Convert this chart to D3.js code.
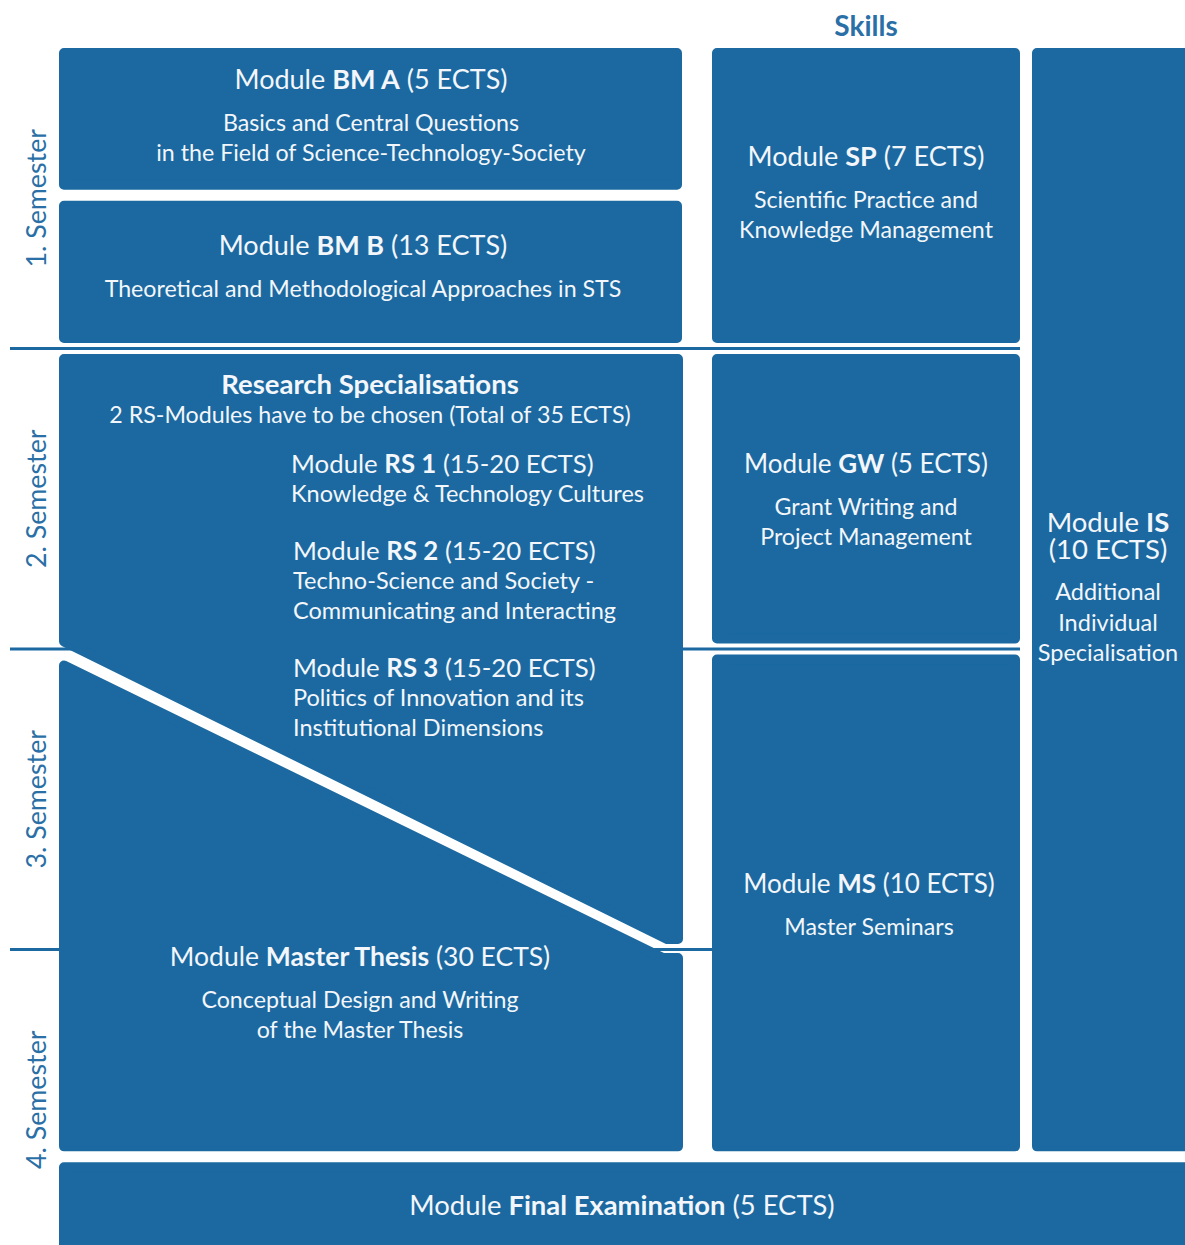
<!DOCTYPE html>
<html>
<head>
<meta charset="utf-8">
<title>STS Master - module structure</title>
<script src="https://cdn.jsdelivr.net/npm/d3@7"></script>
<style>
  body { margin: 0; background: #fff; }
  svg text { font-family: Lato, "Open Sans", sans-serif; }
</style>
</head>
<body>
<div id="chart"></div>
<script>
// ---- content ----
var semesters = ["1. Semester", "2. Semester", "3. Semester", "4. Semester"];
var skillsHeader = "Skills";

var moduleNames = ["BM A", "BM B", "SP", "GW", "MS", "Master Thesis", "IS", "Final Examination"];
var moduleEcts = ["5 ECTS", "13 ECTS", "7 ECTS", "5 ECTS", "10 ECTS", "30 ECTS", "10 ECTS", "5 ECTS"];
var moduleLines = [
  ["Basics and Central Questions", "in the Field of Science-Technology-Society"],
  ["Theoretical and Methodological Approaches in STS"],
  ["Scientific Practice and", "Knowledge Management"],
  ["Grant Writing and", "Project Management"],
  ["Master Seminars"],
  ["Conceptual Design and Writing", "of the Master Thesis"],
  ["Additional", "Individual", "Specialisation"],
  []
];

var rsHeader = "Research Specialisations";
var rsNote = "2 RS-Modules have to be chosen (Total of 35 ECTS)";
var rsNames = ["RS 1", "RS 2", "RS 3"];
var rsEcts = ["15-20 ECTS", "15-20 ECTS", "15-20 ECTS"];
var rsLines = [
  ["Knowledge & Technology Cultures"],
  ["Techno-Science and Society -", "Communicating and Interacting"],
  ["Politics of Innovation and its", "Institutional Dimensions"]
];

// ---- layout ----
var width = 1185, height = 1245;
var blue = "#1b69a0", textCol = "#f3f6fa";
var gap = 5.5, r = 5;

// semester axis: 0 = top of semester 1 ... 4 = bottom of semester 4
var y = d3.scaleLinear().domain([0, 4]).range([48, 1250]);
var columns = [[59, 682], [712, 1020], [1032, 1200], [59, 1200]];

// which column and which semester span each module occupies
var moduleCol = [0, 0, 1, 1, 1, null, 2, 3];
var moduleSpan = [[0, 0.49], [0.49, 1], [0, 1], [1, 2], [2, 3.69], null, [0, 3.69], [3.69, 4.2]];
// text anchor x, title baseline, title size
var modulePos = [[371, 89], [363, 255], [866, 166], [866, 473], [869, 893], [360, 966], [1108, 532], [622, 1215]];
var titleSize = [27, 27, 27, 26, 26, 26.5, 27.5, 27.4];
var subSize = 23.2;

var svg = d3.select("#chart").append("svg")
  .attr("width", width)
  .attr("height", height);

// inset a clockwise polygon by d (miter), so a round stroke gives rounded corners
function inset(pts, d) {
  var n = pts.length, lines = [];
  for (var i = 0; i < n; i++) {
    var p = pts[i], q = pts[(i + 1) % n];
    var dx = q[0] - p[0], dy = q[1] - p[1], len = Math.hypot(dx, dy);
    var nx = -dy / len, ny = dx / len;
    lines.push({ p: [p[0] + nx * d, p[1] + ny * d], v: [dx, dy] });
  }
  var out = [];
  for (var i = 0; i < n; i++) {
    var a = lines[(i - 1 + n) % n], b = lines[i];
    var den = a.v[0] * b.v[1] - a.v[1] * b.v[0];
    var t = ((b.p[0] - a.p[0]) * b.v[1] - (b.p[1] - a.p[1]) * b.v[0]) / den;
    out.push([a.p[0] + a.v[0] * t, a.p[1] + a.v[1] * t]);
  }
  return out;
}

var line = d3.line();
function drawBox(pts) {
  svg.append("path")
    .attr("d", line(inset(pts, r)) + "Z")
    .attr("fill", blue)
    .attr("stroke", blue)
    .attr("stroke-width", 2 * r)
    .attr("stroke-linejoin", "round");
}

function rectPts(x0, x1, y0, y1) {
  return [[x0, y0], [x1, y0], [x1, y1], [x0, y1]];
}

// ---- semester separators (drawn under the boxes) ----
var sepEnds = [1020, 1020, 712];
[1, 2, 3].forEach(function (s, i) {
  svg.append("line")
    .attr("x1", 10).attr("x2", sepEnds[i])
    .attr("y1", y(s)).attr("y2", y(s))
    .attr("stroke", blue)
    .attr("stroke-width", 3);
});

// ---- semester labels ----
svg.selectAll("text.sem")
  .data(semesters)
  .join("text")
  .attr("class", "sem")
  .attr("transform", function (d, i) {
    return "translate(46," + ((y(i) + y(i + 1)) / 2) + ") rotate(-90)";
  })
  .attr("text-anchor", "middle")
  .attr("fill", "#2a6fa6")
  .attr("font-size", 26.8)
  .text(function (d) { return d; });

svg.append("text")
  .attr("x", 866).attr("y", 36)
  .attr("text-anchor", "middle")
  .attr("fill", "#2a6fa6")
  .attr("font-size", 28)
  .attr("font-weight", 700)
  .text(skillsHeader);

// ---- regular module boxes ----
moduleSpan.forEach(function (sp, i) {
  if (!sp) return;
  var c = columns[moduleCol[i]];
  var y0 = sp[0] === 0 ? y(0) : y(sp[0]) + gap;
  var y1 = y(sp[1]) - gap;
  drawBox(rectPts(c[0], c[1], y0, y1));
});

// ---- research specialisation / master thesis, split by a diagonal ----
var c0 = columns[0];
var diagL = [c0[0], y(2)], diagR = [c0[1] - 16, y(3) - 1];
var half = 4.5;
drawBox([
  [c0[0], y(1) + gap], [c0[1] + 1, y(1) + gap], [c0[1] + 1, diagR[1] - half],
  [diagR[0], diagR[1] - half], [diagL[0], diagL[1] - half]
]);
drawBox([
  [diagL[0], diagL[1] + half + 4], [diagR[0] - 2, diagR[1] + half], [c0[1] + 1, diagR[1] + half],
  [c0[1] + 1, y(3.69) - gap], [c0[0], y(3.69) - gap]
]);

// ---- text ----
function titleText(x, yy, anchor, name, ects, size) {
  var t = svg.append("text")
    .attr("x", x).attr("y", yy)
    .attr("text-anchor", anchor)
    .attr("fill", textCol)
    .attr("font-size", size);
  t.append("tspan").text("Module ");
  t.append("tspan").attr("font-weight", 700).text(name);
  if (ects) t.append("tspan").text(" (" + ects + ")");
  return t;
}
function subLines(x, yy, anchor, lines, step, size) {
  lines.forEach(function (l, k) {
    svg.append("text")
      .attr("x", x).attr("y", yy + k * step)
      .attr("text-anchor", anchor)
      .attr("fill", textCol)
      .attr("font-size", size)
      .text(l);
  });
}

moduleNames.forEach(function (name, i) {
  var p = modulePos[i];
  if (name === "IS") {
    // two-line title kept in one text element
    var t = titleText(p[0], p[1], "middle", name, null, titleSize[i]);
    t.append("tspan").attr("x", p[0]).attr("dy", 27).text("(" + moduleEcts[i] + ")");
    subLines(p[0], p[1] + 68, "middle", moduleLines[i], 30.5, 23.5);
  } else {
    titleText(p[0], p[1], "middle", name, moduleEcts[i], titleSize[i]);
    subLines(p[0], p[1] + 42, "middle", moduleLines[i], 30, subSize);
  }
});

svg.append("text")
  .attr("x", 370).attr("y", 394)
  .attr("text-anchor", "middle")
  .attr("fill", textCol)
  .attr("font-size", 27.5)
  .attr("font-weight", 700)
  .text(rsHeader);
subLines(370, 423, "middle", [rsNote], 0, subSize);

var rsPos = [[291, 473], [293, 560], [293, 677]];
rsNames.forEach(function (name, i) {
  titleText(rsPos[i][0], rsPos[i][1], "start", name, rsEcts[i], 25.8);
  subLines(rsPos[i][0], rsPos[i][1] + 29, "start", rsLines[i], 29.5, 23.5);
});
</script>
</body>
</html>
